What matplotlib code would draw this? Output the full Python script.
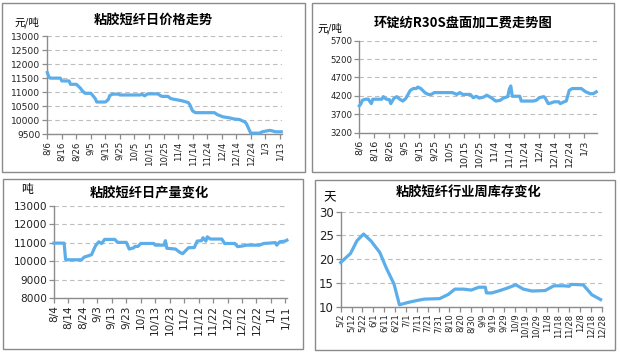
import numpy as np
import matplotlib.pyplot as plt
from matplotlib.patches import Rectangle

plt.rcParams['font.family'] = ['DejaVu Sans', 'Noto Sans CJK SC']

# ---- data (x = days since first tick) ----
price_days = [0, 1, 2, 9, 10, 15, 16, 20, 21, 23, 24, 26, 30, 31, 33, 34, 40, 42, 43, 45, 49, 50,
              64, 65, 67, 69, 76, 78, 79, 83, 85, 89, 93, 97, 98, 100, 102, 115, 117, 121, 125,
              129, 132, 136, 137, 140, 146, 148, 153, 155, 157, 161]
price_vals = [11700, 11550, 11500, 11500, 11400, 11400, 11280, 11280, 11230, 11130, 11050, 10960,
              10960, 10900, 10770, 10650, 10650, 10740, 10880, 10930, 10930, 10900, 10900, 10930,
              10870, 10940, 10940, 10870, 10850, 10850, 10770, 10730, 10690, 10630, 10560, 10330,
              10270, 10270, 10200, 10120, 10090, 10040, 10030, 9940, 9880, 9540, 9540, 9590, 9640,
              9620, 9590, 9590]
price_ticks = ['8/6', '8/16', '8/26', '9/5', '9/15', '9/25', '10/5', '10/15', '10/25', '11/4',
               '11/14', '11/24', '12/4', '12/14', '12/24', '1/3', '1/13']

fee_days = [0, 1, 2, 4, 6, 8, 9, 15, 16, 18, 20, 21, 23, 25, 27, 29, 31, 34, 36, 38, 39, 41, 44,
            46, 48, 50, 62, 65, 67, 69, 74, 76, 78, 80, 83, 85, 88, 91, 94, 96, 99, 100, 101, 102,
            107, 108, 116, 118, 120, 123, 124, 126, 128, 130, 133, 134, 136, 138, 140, 142, 148,
            151, 154, 156, 158]
fee_vals = [3930, 3980, 4080, 4110, 4110, 3990, 4110, 4110, 4180, 4110, 4100, 3990, 4130, 4180,
            4110, 4060, 4130, 4350, 4400, 4400, 4440, 4400, 4280, 4240, 4240, 4290, 4290, 4240,
            4290, 4240, 4240, 4150, 4190, 4140, 4170, 4220, 4150, 4060, 4080, 4140, 4180, 4380,
            4470, 4190, 4190, 4060, 4060, 4080, 4150, 4180, 4140, 3990, 4010, 4040, 4040, 3990,
            4030, 4060, 4350, 4400, 4400, 4310, 4260, 4260, 4310]
fee_ticks = ['8/6', '8/16', '8/26', '9/5', '9/15', '9/25', '10/5', '10/15', '10/25', '11/4',
             '11/14', '11/24', '12/4', '12/14', '12/24', '1/3']

output_days = [0, 7, 8, 9, 19, 21, 24, 26, 28, 29, 31, 33, 35, 42, 44, 50, 52, 55, 56, 58, 60, 69,
               70, 76, 77, 78, 84, 87, 89, 93, 97, 99, 102, 103, 105, 106, 108, 116, 118, 125, 127,
               130, 133, 142, 145, 149, 153, 154, 156, 160, 161]
output_vals = [10980, 10980, 10100, 10080, 10080, 10230, 10300, 10360, 10720, 10870, 11050, 10960,
               11180, 11180, 11020, 11020, 10660, 10720, 10800, 10800, 10960, 10960, 10870, 10870,
               11110, 10700, 10660, 10480, 10410, 10730, 10740, 11090, 11110, 11270, 11090, 11320,
               11200, 11200, 10960, 10960, 10790, 10820, 10870, 10870, 10960, 10980, 11010, 10870,
               11050, 11090, 11140]
output_ticks = ['8/4', '8/14', '8/24', '9/3', '9/13', '9/23', '10/3', '10/13', '10/23', '11/2',
                '11/12', '11/22', '12/2', '12/12', '12/22', '1/1', '1/11']

stock_days = [0, 9, 15, 21, 28, 36, 42, 49, 54, 62, 70, 77, 91, 99, 105, 113, 120, 127, 133, 134,
              139, 145, 153, 161, 168, 176, 188, 196, 205, 210, 212, 223, 231, 239]
stock_vals = [19.3, 21.2, 23.9, 25.3, 23.8, 21.4, 18.1, 14.8, 10.4, 10.9, 11.3, 11.6, 11.7, 12.6,
              13.7, 13.7, 13.5, 14.1, 14.1, 12.9, 12.9, 13.3, 13.9, 14.6, 13.7, 13.3, 13.4, 14.4,
              14.4, 14.3, 14.7, 14.6, 12.5, 11.5]
stock_ticks = ['5/2', '5/12', '5/22', '6/1', '6/11', '6/21', '7/1', '7/11', '7/21', '7/31', '8/10',
               '8/20', '8/30', '9/9', '9/19', '9/29', '10/9', '10/19', '10/29', '11/8', '11/18',
               '11/28', '12/8', '12/18', '12/28']

LINE = '#5BAEEA'
GRID = '#BDBDBD'
AXIS = '#8C8C8C'
W, H = 620, 356


def px_rect(x0, y0, x1, y1):
    """pixel box (top-left origin) -> figure fraction [l, b, w, h]"""
    return [x0 / W, 1 - y1 / H, (x1 - x0) / W, (y1 - y0) / H]


def panel(fig, box, frame, days, vals, ticks, xmax, yticks, title, title_xy, unit, unit_xy,
          yfs, xfs, unit_fs):
    ax = fig.add_axes(px_rect(*box))
    ax.plot(days, vals, color=LINE, lw=2.3, solid_joinstyle='round', clip_on=False, zorder=3)
    ax.set_xlim(0, xmax)
    ax.set_ylim(yticks[0], yticks[-1])
    ax.set_yticks(yticks)
    ax.set_xticks(np.arange(len(ticks)) * 10)
    ax.set_xticklabels(ticks, rotation=90, fontsize=xfs, color='#222222')
    ax.set_yticklabels([str(v) for v in yticks], fontsize=yfs, color='#222222')
    ax.yaxis.grid(True, color=GRID, ls=(0, (4, 3)), lw=0.8)
    ax.set_axisbelow(True)
    for s in ['top', 'right']:
        ax.spines[s].set_visible(False)
    for s in ['left', 'bottom']:
        ax.spines[s].set_color(AXIS)
        ax.spines[s].set_linewidth(1.0)
    ax.tick_params(axis='both', direction='out', length=3.5, width=0.9, color=AXIS, pad=1.5)

    fig.text(title_xy[0] / W, 1 - title_xy[1] / H, title, ha='center', va='center',
             fontsize=9.5, fontweight='bold', family=['Noto Sans CJK SC', 'DejaVu Sans'])
    fig.text(unit_xy[0] / W, 1 - unit_xy[1] / H, unit, ha='center', va='center',
             fontsize=unit_fs, family=['Noto Sans CJK SC', 'DejaVu Sans'])

    fig.add_artist(Rectangle((frame[0] / W, 1 - frame[3] / H), (frame[2] - frame[0]) / W,
                             (frame[3] - frame[1]) / H, transform=fig.transFigure, fill=False,
                             ec='#8A8A8A', lw=1.0))
    return ax


def main():
    fig = plt.figure(figsize=(6.2, 3.56), dpi=100)

    panel(fig, (47.3, 36, 281.7, 134.3), (1.5, 3.3, 305, 172.3), price_days, price_vals,
          price_ticks, 161.3, list(range(9500, 13001, 500)), '粘胶短纤日价格走势', (153.5, 20),
          '元/吨', (26.5, 22), 6.6, 6.2, 7.5)
    panel(fig, (359.3, 40.7, 597.3, 132.7), (311.7, 3.3, 614.3, 172.3), fee_days, fee_vals,
          fee_ticks, 158.7, list(range(3200, 5701, 500)), '环锭纺R30S盘面加工费走势图',
          (463, 22.5), '元/吨', (329.5, 28), 6.2, 6.8, 7.5)
    panel(fig, (54, 205.7, 287.3, 298.3), (3.3, 179, 302.7, 349), output_days, output_vals,
          output_ticks, 161.3, list(range(8000, 13001, 1000)), '粘胶短纤日产量变化', (149, 193),
          '吨', (27.5, 190), 7.6, 7.6, 8.5)
    panel(fig, (340.7, 211.7, 601.7, 306.7), (315, 180, 615, 350), stock_days, stock_vals,
          stock_ticks, 240, list(range(10, 31, 5)), '粘胶短纤行业周库存变化', (469, 192.5),
          '天', (330, 198), 8.5, 6.0, 9)

    fig.savefig('out.png', dpi=100)


if __name__ == '__main__':
    main()
